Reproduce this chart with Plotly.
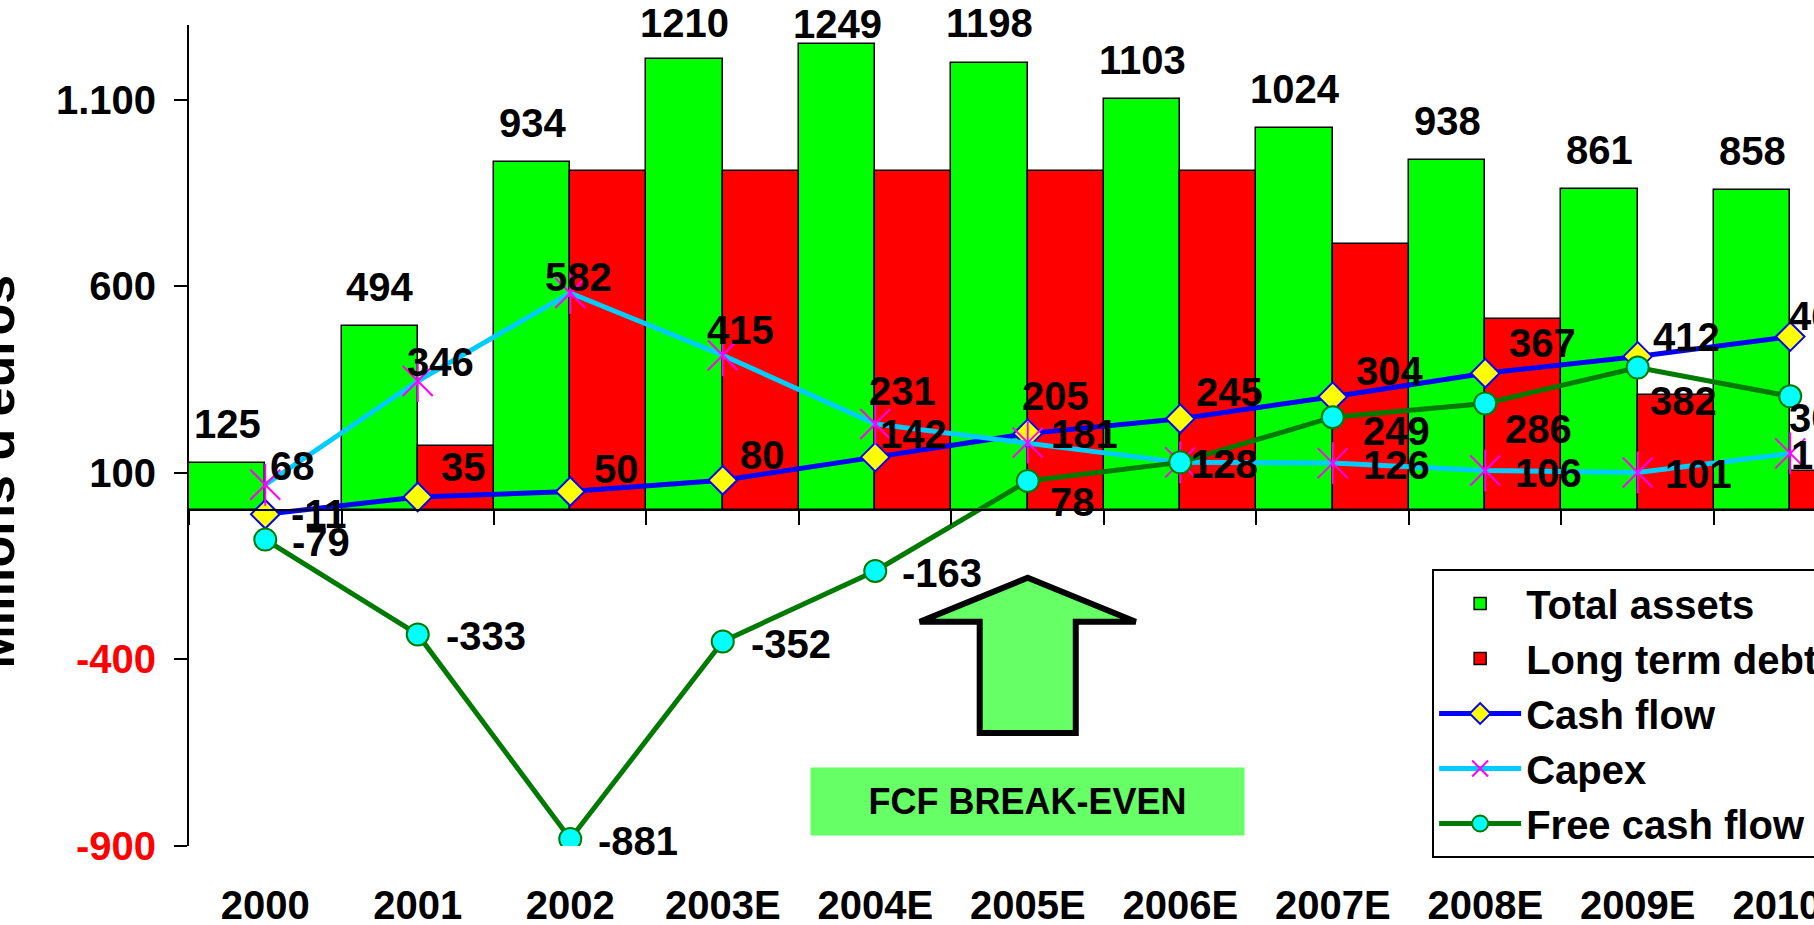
import plotly.graph_objects as go

# ---------------- data ----------------
years = ["2000", "2001", "2002", "2003E", "2004E", "2005E", "2006E",
         "2007E", "2008E", "2009E", "2010E"]
total_assets = [125, 494, 934, 1210, 1249, 1198, 1103, 1024, 938, 861, 858]
long_term_debt = [None, 173, 908, 908, 908, 908, 908, 714, 513, 309, 105]
cash_flow = [-11, 35, 50, 80, 142, 205, 245, 304, 367, 412, 465]
capex = [68, 346, 582, 415, 231, 181, 128, 126, 106, 101, 152]
free_cash_flow = [-79, -333, -881, -352, -163, 78, 128, 249, 286, 382, 305]

y_tick_values = [-900, -400, 100, 600, 1100]
y_tick_labels = ["-900", "-400", "100", "600", "1.100"]
y_tick_colors = ["red", "red", "black", "black", "black"]

# label offsets in pixels (dx right, dy up) -- label placement only
cf_label_off = [(54, 0), (46, 30), (46, 22), (40, 25), (38, 23), (28, 38),
                (49, 27), (57, 26), (57, 30), (49, 19), (32, 21)]
capex_label_off = [(27, 19), (23, 19), (8, 16), (18, 25), (27, 33), (57, 9),
                   (44, -2), (64, -2), (63, -2), (61, -2), (34, -2)]
fcf_label_off = [(56, -2), (68, -2), (68, -2), (68, -2), (67, -2), (45, -21),
                 (44, -2), (64, -14), (53, -26), (46, -33), (32, -22)]
ta_label_up = [39, 39, 39, 36, 20, 40, 39, 39, 39, 39, 39]

FONT = "Liberation Sans, Arial, sans-serif"
X_RANGE = [-0.5, 10.156]
Y_RANGE = [-900, 1300]

fig = go.Figure()

fig.add_trace(go.Bar(
    x=years, y=total_assets, name="Total assets",
    marker=dict(color="#00FF00", line=dict(color="black", width=1.5)),
))
fig.add_trace(go.Bar(
    x=years, y=long_term_debt, name="Long term debt",
    marker=dict(color="#FF0000", line=dict(color="black", width=1.5)),
))
fig.add_trace(go.Scatter(
    x=years, y=cash_flow, name="Cash flow", mode="lines+markers",
    line=dict(color="#0000FF", width=5),
    marker=dict(symbol="diamond", size=22, color="#FFFF00",
                line=dict(color="#0000FF", width=2)),
))
fig.add_trace(go.Scatter(
    x=years, y=capex, name="Capex", mode="lines+markers",
    line=dict(color="#00CCFF", width=5),
    marker=dict(symbol="x-thin-open", size=30, color="#FF00FF",
                line=dict(color="#FF00FF", width=2)),
))
fig.add_trace(go.Scatter(
    x=years, y=capex, name="Capex", mode="markers", showlegend=False,
    marker=dict(symbol="line-ns-open", size=30, color="#FF00FF",
                line=dict(color="#FF00FF", width=2)),
))
fig.add_trace(go.Scatter(
    x=years, y=free_cash_flow, name="Free cash flow", mode="lines+markers",
    line=dict(color="#007A00", width=5),
    marker=dict(symbol="circle", size=22, color="#00FFFF",
                line=dict(color="#007A00", width=2)),
))

annotations = []
lab_font = dict(family=FONT, size=40, color="black", weight="bold")

for i, v in enumerate(total_assets):
    annotations.append(dict(x=i - 0.25, y=v, xref="x", yref="y", text=str(v),
                            showarrow=False, yshift=ta_label_up[i],
                            xanchor="center", yanchor="middle", font=lab_font))

for series, offs in ((cash_flow, cf_label_off), (capex, capex_label_off),
                     (free_cash_flow, fcf_label_off)):
    for i, v in enumerate(series):
        dx, dy = offs[i]
        annotations.append(dict(x=i, y=v, xref="x", yref="y", text=str(v),
                                showarrow=False, xshift=dx, yshift=dy,
                                xanchor="center", yanchor="middle", font=lab_font))

# y axis title (partially cut at the left edge, as in the original)
annotations.append(dict(x=-0.1188, y=0.456, xref="paper", yref="paper",
                        text="Millions d'euros", textangle=-90, showarrow=False,
                        xanchor="center", yanchor="middle",
                        font=dict(family=FONT, size=52, color="black", weight="bold")))

# FCF break-even box
annotations.append(dict(x=5, y=-782, xref="x", yref="y", text="FCF BREAK-EVEN",
                        showarrow=False, width=431, height=65, bgcolor="#66FF66",
                        xanchor="center", yanchor="middle",
                        font=dict(family=FONT, size=36, color="black", weight="bold")))


def px_x(v):
    return (v - X_RANGE[0]) / (X_RANGE[1] - X_RANGE[0])


# block arrow pointing up at 2005E (decoration)
c = 5
tip, head_base, bottom = -181, -299, -597
hw, sw = 0.708, 0.315
pts = [(c, tip), (c + hw, head_base), (c + sw, head_base), (c + sw, bottom),
       (c - sw, bottom), (c - sw, head_base), (c - hw, head_base)]
path = "M " + " L ".join(f"{px_x(x):.5f},{y}" for x, y in pts) + " Z"

shapes = [dict(type="path", xref="paper", yref="y", path=path,
               fillcolor="#66FF66", line=dict(color="black", width=6))]

fig.update_layout(
    width=1814, height=925,
    margin=dict(l=189, r=0, t=25, b=79, autoexpand=False),
    paper_bgcolor="white", plot_bgcolor="white",
    barmode="group", bargap=0, bargroupgap=0,
    font=dict(family=FONT, size=40, color="black"),
    showlegend=True,
    legend=dict(x=0.765, y=0.3374, xanchor="left", yanchor="top",
                bordercolor="black", borderwidth=2, bgcolor="white",
                font=dict(family=FONT, size=40, color="black", weight="bold"),
                itemwidth=82, tracegroupgap=0),
    annotations=annotations,
    shapes=shapes,
    xaxis=dict(type="category", categoryorder="array", categoryarray=years,
               range=X_RANGE, anchor="free",
               position=(0 - Y_RANGE[0]) / (Y_RANGE[1] - Y_RANGE[0]),
               showline=True, linecolor="black", linewidth=2,
               ticks="outside", tickson="boundaries", ticklen=14,
               tickwidth=2, tickcolor="black", showgrid=False,
               ticklabelstandoff=360,
               tickfont=dict(family=FONT, size=40, color="black", weight="bold")),
    yaxis=dict(range=Y_RANGE, tickmode="array", tickvals=y_tick_values,
               ticktext=[f"<span style='color:{c}'>{t}</span>"
                         for t, c in zip(y_tick_labels, y_tick_colors)],
               showline=True, linecolor="black", linewidth=2,
               ticks="outside", ticklen=13, tickwidth=2, tickcolor="black",
               showgrid=False, zeroline=False, ticklabelstandoff=10,
               tickfont=dict(family=FONT, size=40, color="black", weight="bold")),
)

fig.write_html("out.html", config={"displayModeBar": False},
               post_script="document.body.style.margin='0';document.body.style.overflow='hidden';")
